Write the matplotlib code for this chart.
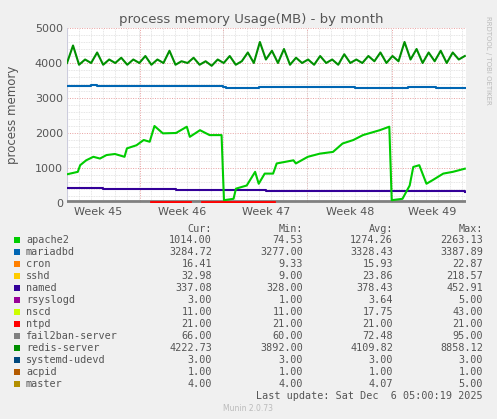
import matplotlib.pyplot as plt
import numpy as np
from matplotlib.ticker import MultipleLocator

# Munin-like "process memory by month" chart

# --- data (x in days since start of the window) ---
apache_days = [0, 0.9, 1.1, 1.6, 2.2, 2.75, 3.3, 4.0, 4.8, 5.0, 5.8, 6.4, 6.9, 7.3, 8.0, 9.1, 10.0,
               10.25, 11.1, 11.9, 12.9, 13.1, 13.9, 14.1, 15.0, 15.7, 16.0, 16.5, 17.2, 17.5, 18.9,
               19.1, 20.1, 21.1, 22.2, 23.0, 23.9, 24.7, 26.1, 26.9, 27.1, 28.0, 28.6, 28.9, 29.4,
               30.0, 30.5, 31.4, 32.2, 33.2]
apache_vals = [820, 890, 1080, 1220, 1320, 1270, 1370, 1400, 1320, 1560, 1650, 1800, 1750, 2200, 1990,
               2000, 2180, 1890, 2080, 1940, 1940, 80, 120, 410, 500, 890, 550, 840, 840, 1130, 1220,
               1130, 1320, 1410, 1460, 1700, 1800, 1940, 2080, 2180, 80, 120, 500, 1030, 1080,
               550, 650, 840, 890, 980]

redis_vals = [4000, 4500, 3950, 4100, 4000, 4300, 3950, 4100, 4000, 4150, 3950, 4100, 4000, 4200,
              3950, 4100, 4000, 4350, 3950, 4050, 4000, 4150, 3950, 4050, 3920, 4100, 4000, 4200,
              3950, 4050, 4300, 4000, 4600, 4100, 4350, 4000, 4400, 3950, 4150, 4000, 4100, 3950,
              4200, 4000, 4100, 3950, 4250, 4000, 4100, 4000, 4200, 4050, 4300, 4000, 4200, 4050,
              4600, 4100, 4400, 4000, 4300, 4050, 4350, 4000, 4300, 4100, 4200]
redis_days = np.linspace(0, 33.2, len(redis_vals))

maria_days = [0, 1.5, 2.0, 2.5, 6.5, 8.0, 10.0, 13.0, 13.3, 16.0, 22.0, 24.0, 26.0, 28.5, 30.0, 30.8, 33.2]
maria_vals = [3350, 3350, 3380, 3330, 3350, 3340, 3330, 3320, 3290, 3300, 3300, 3280, 3290, 3320, 3320, 3290, 3280]

named_days = [0, 2.9, 3.0, 9.0, 9.1, 16.5, 16.6, 17.0, 17.1, 33.2]
named_vals = [430, 430, 405, 405, 385, 385, 345, 345, 330, 320]

fail2ban_days = [0, 33.2]
fail2ban_vals = [66, 66]
ntpd_segments = [(7.0, 10.3), (11.3, 17.3)]
ntpd_value = 21

week_labels = ['Week 45', 'Week 46', 'Week 47', 'Week 48', 'Week 49']
week_centers = [2.6, 9.6, 16.6, 23.6, 30.5]
week_bounds = [6.1, 13.0, 20.0, 27.1]

legend_rows = [
    ('apache2', '#00cc00', '1014.00', '74.53', '1274.26', '2263.13'),
    ('mariadbd', '#0066b3', '3284.72', '3277.00', '3328.43', '3387.89'),
    ('cron', '#ff8000', '16.41', '9.33', '15.93', '22.87'),
    ('sshd', '#ffcc00', '32.98', '9.00', '23.86', '218.57'),
    ('named', '#330099', '337.08', '328.00', '378.43', '452.91'),
    ('rsyslogd', '#990099', '3.00', '1.00', '3.64', '5.00'),
    ('nscd', '#ccff00', '11.00', '11.00', '17.75', '43.00'),
    ('ntpd', '#ff0000', '21.00', '21.00', '21.00', '21.00'),
    ('fail2ban-server', '#808080', '66.00', '60.00', '72.48', '95.00'),
    ('redis-server', '#008f00', '4222.73', '3892.00', '4109.82', '8858.12'),
    ('systemd-udevd', '#00487d', '3.00', '3.00', '3.00', '3.00'),
    ('acpid', '#b35a00', '1.00', '1.00', '1.00', '1.00'),
    ('master', '#b38f00', '4.00', '4.00', '4.07', '5.00'),
]

bg = '#f0f0f0'
txt = '#555555'
fig = plt.figure(figsize=(4.97, 4.19), dpi=100, facecolor=bg)
ax = fig.add_axes([67/497, 216/419, 399/497, 175/419])
ax.set_facecolor('white')

ax.set_xlim(0, 33.3)
ax.set_ylim(0, 5000)

# grid
ax.yaxis.set_minor_locator(MultipleLocator(200))
ax.xaxis.set_minor_locator(MultipleLocator(1))
ax.grid(which='minor', color='#dddddd', linestyle=(0, (1, 1)), linewidth=0.6)
for y in range(1000, 5001, 1000):
    ax.axhline(y, color='#e8a0a0', linestyle=(0, (1, 1.5)), linewidth=0.7, zorder=1)
for xb in week_bounds:
    ax.axvline(xb, color='#e8a0a0', linestyle=(0, (1, 1.5)), linewidth=0.7, zorder=1)

ax.step(maria_days, maria_vals, where='post', color='#0066b3', lw=1.5, zorder=3)
ax.step(named_days, named_vals, where='post', color='#330099', lw=1.5, zorder=3)
ax.plot(redis_days, redis_vals, color='#008f00', lw=1.5, zorder=3)
ax.plot(apache_days, apache_vals, color='#00cc00', lw=1.5, zorder=4)
ax.plot(fail2ban_days, fail2ban_vals, color='#808080', lw=2, zorder=3)
for a, b in ntpd_segments:
    ax.plot([a, b], [ntpd_value, ntpd_value], color='#ff0000', lw=2, zorder=4)

ax.set_yticks(range(0, 5001, 1000))
ax.set_yticklabels([str(v) for v in range(0, 5001, 1000)], fontsize=8, color=txt)
ax.set_xticks(week_centers)
ax.set_xticklabels(week_labels, fontsize=8, color=txt)
ax.tick_params(which='both', length=0, pad=3)
for s in ax.spines.values():
    s.set_visible(False)
ax.axhline(0, color='#aaaaaa', lw=0.8, zorder=2)
ax.axvline(0, color='#ccccdd', lw=0.8, zorder=2)

fig.text(0.5 * (67 + 466) / 497 - 0.03, 1 - 19/419, 'process memory Usage(MB) - by month',
         ha='center', va='center', fontsize=9.5, color=txt)
fig.text(13/497, 1 - 115/419, 'process memory', rotation=90, ha='center', va='center',
         fontsize=8.5, color=txt)
fig.text(488/497, 1 - 60/419, 'RRDTOOL / TOBI OETIKER', rotation=270, ha='center', va='center',
         fontsize=5, color='#bbbbbb')

# legend table
mono = 'DejaVu Sans Mono'
fs = 7.3
col_x = [212, 303, 393, 483]
fig.text(col_x[0]/497, 1 - 229/419, 'Cur:', ha='right', va='center', family=mono, fontsize=fs, color=txt)
fig.text(col_x[1]/497, 1 - 229/419, 'Min:', ha='right', va='center', family=mono, fontsize=fs, color=txt)
fig.text(col_x[2]/497, 1 - 229/419, 'Avg:', ha='right', va='center', family=mono, fontsize=fs, color=txt)
fig.text(col_x[3]/497, 1 - 229/419, 'Max:', ha='right', va='center', family=mono, fontsize=fs, color=txt)
for i, (name, color, cur, mn, avg, mx) in enumerate(legend_rows):
    y = 1 - (240 + i * 12) / 419
    fig.patches.append(plt.Rectangle((14/497, y - 3/419), 6/497, 6/419, transform=fig.transFigure,
                                     facecolor=color, edgecolor='none'))
    fig.text(26/497, y, name, ha='left', va='center', family=mono, fontsize=fs, color=txt)
    for cx, v in zip(col_x, (cur, mn, avg, mx)):
        fig.text(cx/497, y, v, ha='right', va='center', family=mono, fontsize=fs, color=txt)
fig.text(483/497, 1 - 396/419, 'Last update: Sat Dec  6 05:00:19 2025', ha='right', va='center',
         family=mono, fontsize=fs, color=txt)
fig.text(248/497, 1 - 408/419, 'Munin 2.0.73', ha='center', va='center', fontsize=5.5, color='#bbbbbb')

fig.savefig('out.png', dpi=100, facecolor=bg)
